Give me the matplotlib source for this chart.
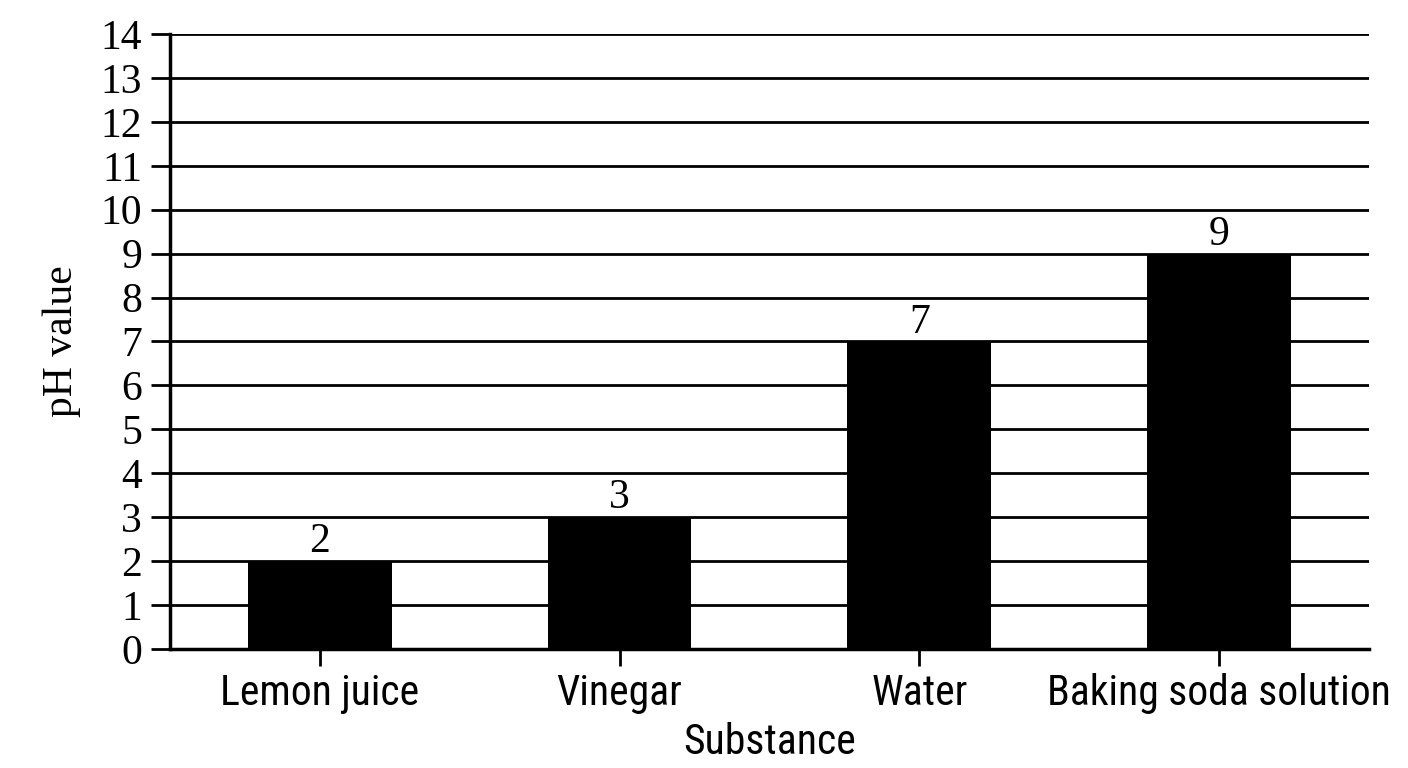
import matplotlib.pyplot as plt
from matplotlib import font_manager

# data
substances = ['Lemon juice', 'Vinegar', 'Water', 'Baking soda solution']
ph_values = [2, 3, 7, 9]
y_ticks = list(range(0, 15))

names = {f.name for f in font_manager.fontManager.ttflist}
serif = [n for n in ['Liberation Serif', 'Times New Roman'] if n in names] + ['DejaVu Serif']
sans = [n for n in ['Roboto Condensed', 'Liberation Sans Narrow', 'Roboto'] if n in names] + ['DejaVu Sans']

fig = plt.figure(figsize=(14.08, 7.68), dpi=100)
ax = fig.add_axes([0.1207, 0.155, 0.8515, 0.8007])

x = list(range(len(substances)))
ax.bar(x, ph_values, width=0.48, color='black', zorder=3)

# value labels above the bars
for xi, v in zip(x, ph_values):
    ax.text(xi, v + 0.2, str(v), ha='center', va='baseline',
            fontsize=30, family=serif)

ax.set_xlim(-0.5, 3.5)
ax.set_ylim(0, 14)
ax.set_yticks(y_ticks)
ax.set_yticklabels([str(t) for t in y_ticks], family=serif, fontsize=30)
ax.set_xticks(x)
ax.set_xticklabels(substances, family=sans, fontsize=30)

ax.yaxis.grid(True, color='black', linewidth=2, zorder=0)
ax.set_axisbelow(True)

for s in ['top', 'right']:
    ax.spines[s].set_visible(False)
for s in ['left', 'bottom']:
    ax.spines[s].set_linewidth(2.5)

ax.tick_params(axis='y', length=14, width=2, pad=6)
ax.tick_params(axis='x', length=12, width=2, pad=5)

ax.set_ylabel('pH value', family=serif, fontsize=30, labelpad=14)
ax.set_xlabel('Substance', family=sans, fontsize=30, labelpad=6)

fig.savefig('out.png', dpi=100)
